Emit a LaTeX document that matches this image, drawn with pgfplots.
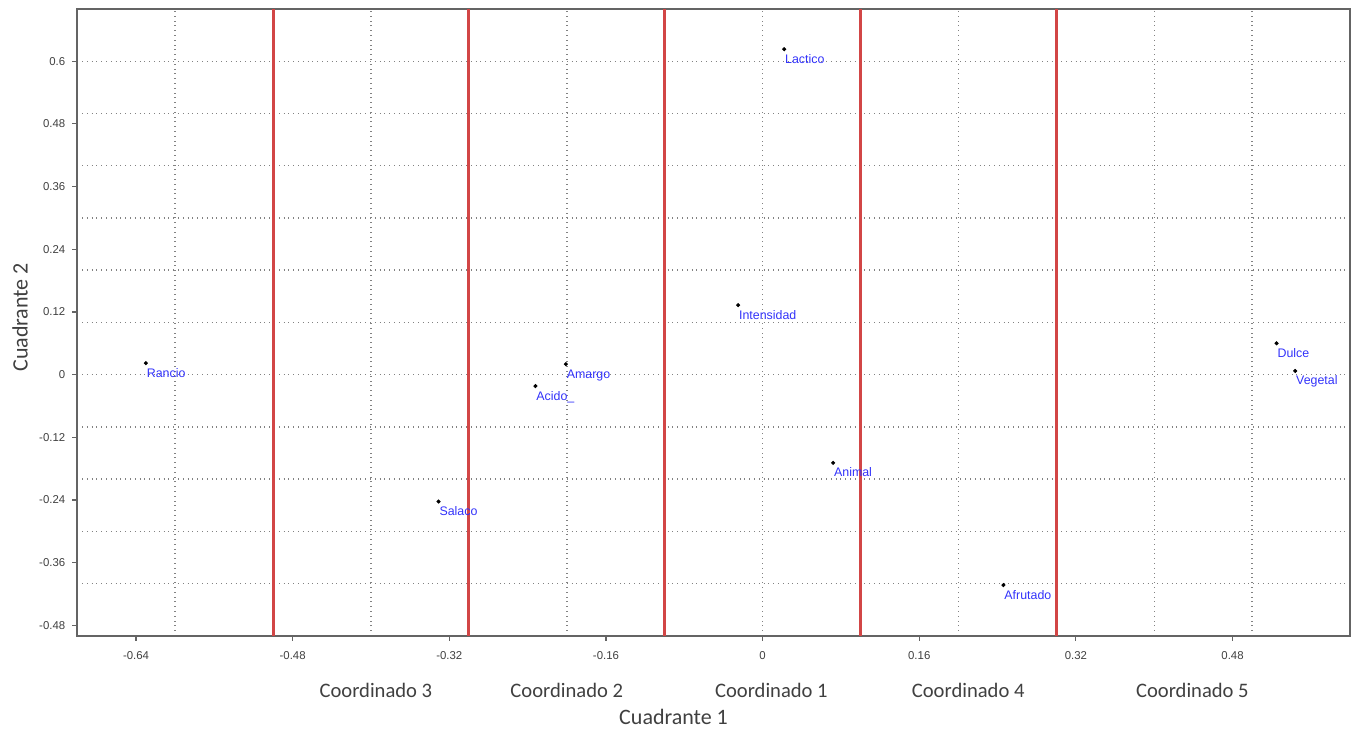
\documentclass[border=0pt]{standalone}
\usepackage{fontspec}
\setmainfont{Liberation Sans}
\newfontfamily\calibri{Carlito}
\usepackage{pgfplots}
\pgfplotsset{compat=1.18}
\definecolor{axisgray}{RGB}{100,100,100}
\definecolor{gridgray}{RGB}{130,130,130}
\definecolor{redline}{RGB}{210,70,70}
\definecolor{labelblue}{RGB}{50,50,250}
\definecolor{titlegray}{RGB}{64,64,64}
\begin{document}
\begin{tikzpicture}
\begin{axis}[
  scale only axis, width=636.4pt, height=313.4pt,
  xmin=-0.7, xmax=0.6, ymin=-0.5, ymax=0.7,
  axis line style={axisgray, line width=1pt},
  xtick={-0.64,-0.48,-0.32,-0.16,0,0.16,0.32,0.48},
  ytick={-0.48,-0.36,-0.24,-0.12,0,0.12,0.24,0.36,0.48,0.6},
  xticklabels={-0.64,-0.48,-0.32,-0.16,0,0.16,0.32,0.48},
  yticklabels={-0.48,-0.36,-0.24,-0.12,0,0.12,0.24,0.36,0.48,0.6},
  tick align=outside, major tick length=2.5pt,
  tick style={axisgray, line width=0.6pt},
  xtick pos=bottom, ytick pos=left,
  minor xtick={-0.6,-0.4,-0.2,0,0.2,0.4,0.5},
  minor ytick={-0.4,-0.3,-0.2,-0.1,0,0.1,0.2,0.3,0.4,0.5,0.6},
  minor tick length=0pt,
  xminorgrids=true, yminorgrids=true,
  minor grid style={gridgray, dotted, line width=0.7pt},
  ticklabel style={font=\fontsize{5.7}{6}\selectfont, text=titlegray},
  xticklabel style={yshift=-2pt},
  clip=false,
]
\addplot[redline, line width=1.5pt, forget plot] coordinates {(-0.5,-0.5) (-0.5,0.7)};
\addplot[redline, line width=1.5pt, forget plot] coordinates {(-0.3,-0.5) (-0.3,0.7)};
\addplot[redline, line width=1.5pt, forget plot] coordinates {(-0.1,-0.5) (-0.1,0.7)};
\addplot[redline, line width=1.5pt, forget plot] coordinates {(0.1,-0.5) (0.1,0.7)};
\addplot[redline, line width=1.5pt, forget plot] coordinates {(0.3,-0.5) (0.3,0.7)};

\addplot[only marks, mark=*, mark size=0.8pt, black,
  point meta=explicit symbolic,
  nodes near coords,
  nodes near coords align={anchor=base west},
  nodes near coords style={anchor=base west, font=\fontsize{6.2}{7}\selectfont, text=labelblue, inner sep=0pt, yshift=-7pt, xshift=0.3pt}]
  coordinates {
  (-0.630,0.022) [Rancio]
  (-0.331,-0.243) [Salaco]
  (-0.232,-0.022) [Acido\_]
  (-0.201,0.020) [Amargo]
  (-0.025,0.133) [Intensidad]
  (0.072,-0.169) [Animal]
  (0.022,0.623) [Lactico]
  (0.525,0.060) [Dulce]
  (0.544,0.007) [Vegetal]
  (0.246,-0.403) [Afrutado]
  };

\coordinate (SW) at (rel axis cs:0,0);
\coordinate (NE) at (rel axis cs:1,1);
\node[font=\calibri\fontsize{11}{13}\selectfont, text=titlegray, rotate=90] at ([xshift=-28.65pt]rel axis cs:0,0.508) {Cuadrante 2};
\node[font=\calibri\fontsize{11}{13}\selectfont, text=titlegray] at ([yshift=-40.65pt]rel axis cs:0.4685,0) {Cuadrante 1};
\node[font=\calibri\fontsize{10.3}{12}\selectfont, text=titlegray] at ([yshift=-27.5pt]axis cs:-0.395,-0.5) {Coordinado 3};
\node[font=\calibri\fontsize{10.3}{12}\selectfont, text=titlegray] at ([yshift=-27.5pt]axis cs:-0.2,-0.5) {Coordinado 2};
\node[font=\calibri\fontsize{10.3}{12}\selectfont, text=titlegray] at ([yshift=-27.5pt]axis cs:0.009,-0.5) {Coordinado 1};
\node[font=\calibri\fontsize{10.3}{12}\selectfont, text=titlegray] at ([yshift=-27.5pt]axis cs:0.21,-0.5) {Coordinado 4};
\node[font=\calibri\fontsize{10.3}{12}\selectfont, text=titlegray] at ([yshift=-27.5pt]axis cs:0.439,-0.5) {Coordinado 5};
\end{axis}
\pgfresetboundingbox
\path ([shift={(-38.65pt,-46.15pt)}]SW) rectangle ([shift={(1.5pt,4.5pt)}]NE);
\end{tikzpicture}
\end{document}
